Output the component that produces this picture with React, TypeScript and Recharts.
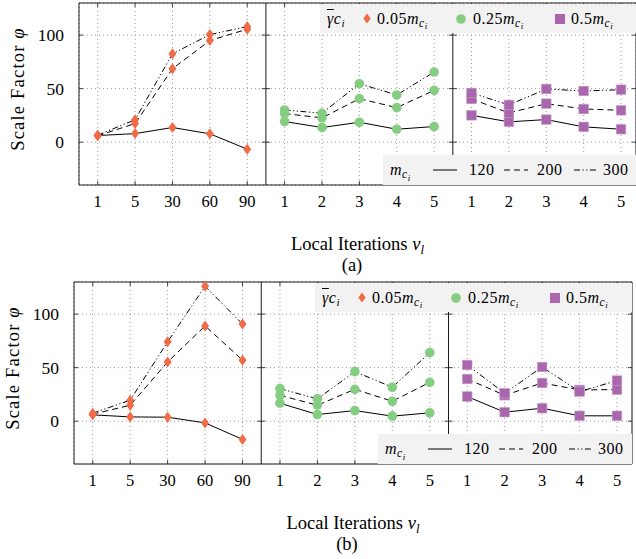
import React from 'react'
import { ComposedChart, Line, XAxis, YAxis, CartesianGrid, ReferenceLine } from 'recharts'

// x categories: iterations for the three sub-plots laid side by side
const xLabels = ['1', '5', '30', '60', '90', '1', '2', '3', '4', '5', '1', '2', '3', '4', '5']
const yTicks = [0, 50, 100]

// panel (a)
const aDiamond120 = [6.2, 8, 13.7, 7.8, -6.5]
const aDiamond200 = [6, 17.4, 68.6, 95, 105.5]
const aDiamond300 = [6.5, 21, 82.5, 100.5, 108]
const aCircle120 = [19.3, 13.7, 18.6, 12.1, 14.6]
const aCircle200 = [26.7, 22.7, 40.6, 32.3, 48.4]
const aCircle300 = [30.1, 27, 54.6, 44.1, 65.5]
const aSquare120 = [25.1, 19, 21.1, 14.3, 12.1]
const aSquare200 = [40.4, 27.3, 36, 31, 29.8]
const aSquare300 = [46, 34.8, 49.7, 47.8, 49]

// panel (b)
const bDiamond120 = [5.9, 4, 3.7, -1.6, -17]
const bDiamond200 = [6.5, 14.9, 55.3, 89, 57]
const bDiamond300 = [7.5, 19.6, 74.2, 126, 90.7]
const bCircle120 = [16.8, 6.2, 9.9, 4.7, 7.8]
const bCircle200 = [24.2, 14.9, 29.8, 18.6, 36.3]
const bCircle300 = [30.4, 20.8, 46.3, 31.7, 64]
const bSquare120 = [23, 8.4, 12.1, 5, 5]
const bSquare200 = [39.4, 24.2, 35.7, 29.2, 29.5]
const bSquare300 = [52.5, 26.1, 50.6, 27.6, 37.9]

const ORANGE = '#f26b47'
const GREEN = '#85cd80'
const PURPLE = '#a966ad'
const SERIF = '"Liberation Serif", "DejaVu Serif", serif'

const X_MIN = -0.5
const X_MAX = 14.4
const Y_MIN = -40
const Y_MAX = 130

type Triple = number[][]

// one row per x position; each group only fills its own five slots
function buildRows(groups: Triple[]) {
  return xLabels.map((_, i) => {
    const row: Record<string, number | null> = { x: i }
    const g = Math.floor(i / 5)
    groups.forEach((grp, gi) => {
      grp.forEach((vals, si) => {
        row[`g${gi}s${si}`] = gi === g ? vals[i % 5] : null
      })
    })
    return row
  })
}

const rowsA = buildRows([
  [aDiamond120, aDiamond200, aDiamond300],
  [aCircle120, aCircle200, aCircle300],
  [aSquare120, aSquare200, aSquare300],
])
const rowsB = buildRows([
  [bDiamond120, bDiamond200, bDiamond300],
  [bCircle120, bCircle200, bCircle300],
  [bSquare120, bSquare200, bSquare300],
])

const empty = (p: any) => p.cx == null || p.cy == null || p.value == null

const diamondDot = (p: any) =>
  empty(p) ? <g key={p.index} /> : (
    <path key={p.index} d={`M${p.cx},${p.cy - 5.5}L${p.cx + 4},${p.cy}L${p.cx},${p.cy + 5.5}L${p.cx - 4},${p.cy}Z`} fill={ORANGE} />
  )
const circleDot = (p: any) =>
  empty(p) ? <g key={p.index} /> : <circle key={p.index} cx={p.cx} cy={p.cy} r={4.8} fill={GREEN} />
const squareDot = (p: any) =>
  empty(p) ? <g key={p.index} /> : (
    <rect key={p.index} x={p.cx - 4.8} y={p.cy - 4.8} width={9.6} height={9.6} fill={PURPLE} stroke="#c9a0cb" strokeWidth={0.6} />
  )

const DASHES = [undefined, '6 4', '6 2.5 1.2 2.5 1.2 2.5']
const DOTS = [diamondDot, circleDot, squareDot]

const boundaries = [X_MIN, 4.5, 9.5, X_MAX]

function Mci() {
  return (
    <span>
      <i>m</i>
      <span style={{ fontSize: '0.72em', position: 'relative', top: '0.3em' }}>
        <i>c</i>
        <span style={{ fontSize: '0.78em', position: 'relative', top: '0.25em' }}>
          <i>i</i>
        </span>
      </span>
    </span>
  )
}

function LineSample({ dash }: { dash?: string }) {
  return (
    <svg width={24} height={6} style={{ display: 'block' }}>
      <line x1={0} y1={3} x2={24} y2={3} stroke="#000" strokeWidth={1} strokeDasharray={dash} />
    </svg>
  )
}

const item = (left: number): React.CSSProperties => ({
  position: 'absolute',
  left,
  top: 0,
  height: '100%',
  display: 'flex',
  alignItems: 'center',
  whiteSpace: 'nowrap',
})

function Panel({ top, plotLeft, plotRight, rows, caption }: { top: number; plotLeft: number; plotRight: number; rows: any[]; caption: string }) {
  const W = 636
  const legendText: React.CSSProperties = { fontFamily: SERIF, fontSize: 16, letterSpacing: 0.5, color: '#000' }
  return (
    <div style={{ position: 'absolute', left: 0, top, width: W, height: 280 }}>
      <ComposedChart width={W} height={215} data={rows} margin={{ top: 3, right: W - plotRight, left: 0, bottom: 0 }}>
        <CartesianGrid stroke="#9a9a9a" strokeDasharray="1 3" />
        <XAxis
          type="number"
          dataKey="x"
          domain={[X_MIN, X_MAX]}
          ticks={xLabels.map((_, i) => i)}
          interval={0}
          tickFormatter={(v: number) => xLabels[v]}
          allowDataOverflow
          axisLine={false}
          tickLine={false}
          tickSize={0}
          tickMargin={10}
          height={30}
          tick={{ fill: '#000', fontSize: 16.5, fontFamily: SERIF }}
        />
        <YAxis
          type="number"
          domain={[Y_MIN, Y_MAX]}
          ticks={yTicks}
          allowDataOverflow
          width={plotLeft}
          axisLine={false}
          tickLine={false}
          tickSize={0}
          tickMargin={15}
          tick={{ fill: '#000', fontSize: 17.5, fontFamily: SERIF }}
        />
        {/* small inward ticks on top and bottom edges */}
        {xLabels.map((_, i) => (
          <ReferenceLine key={`tt${i}`} segment={[{ x: i, y: Y_MAX }, { x: i, y: Y_MAX - 3.8 }]} stroke="#444" />
        ))}
        {xLabels.map((_, i) => (
          <ReferenceLine key={`tb${i}`} segment={[{ x: i, y: Y_MIN }, { x: i, y: Y_MIN + 3.8 }]} stroke="#444" />
        ))}
        {boundaries.map((b, bi) =>
          yTicks.map((t) => (
            <ReferenceLine
              key={`ty${bi}-${t}`}
              segment={[{ x: bi === 0 ? b : b - 0.11, y: t }, { x: bi === 3 ? b : b + 0.11, y: t }]}
              stroke="#444"
            />
          ))
        )}
        {/* frame and sub-plot dividers */}
        <ReferenceLine y={Y_MAX} stroke="#1a1a1a" />
        <ReferenceLine y={Y_MIN} stroke="#1a1a1a" />
        {boundaries.map((b) => (
          <ReferenceLine key={`fx${b}`} x={b} stroke="#1a1a1a" />
        ))}
        {[0, 1, 2].map((g) =>
          [0, 1, 2].map((s) => (
            <Line
              key={`g${g}s${s}`}
              dataKey={`g${g}s${s}`}
              type="linear"
              stroke="#000"
              strokeWidth={1}
              strokeDasharray={DASHES[s]}
              dot={DOTS[g]}
              activeDot={false}
              connectNulls={false}
              isAnimationActive={false}
            />
          ))
        )}
      </ComposedChart>

      {/* legend: marker styles */}
      <div style={{ position: 'absolute', left: plotLeft + 241, top: 4, width: plotRight - plotLeft - 241, height: 29, background: '#f2f2f2', ...legendText }}>
        <div style={item(7)}>
          <span>
            <i style={{ textDecoration: 'overline' }}>γ</i>
            <i>c</i>
            <span style={{ fontSize: '0.7em', position: 'relative', top: '0.3em' }}><i>i</i></span>
          </span>
        </div>
        <div style={item(43)}>
          <svg width={8} height={11}><path d="M4,0.5L7.7,5.5L4,10.5L0.3,5.5Z" fill={ORANGE} /></svg>
        </div>
        <div style={item(57)}><span>0.05<Mci /></span></div>
        <div style={item(136)}>
          <svg width={10} height={10}><circle cx={5} cy={5} r={4.8} fill={GREEN} /></svg>
        </div>
        <div style={item(153)}><span>0.25<Mci /></span></div>
        <div style={item(235)}>
          <svg width={10} height={10}><rect x={0} y={0} width={10} height={10} fill={PURPLE} /></svg>
        </div>
        <div style={item(251)}><span>0.5<Mci /></span></div>
      </div>

      {/* legend: line styles */}
      <div style={{ position: 'absolute', left: plotLeft + 304, top: 155, width: plotRight - plotLeft - 304, height: 30, background: '#f2f2f2', ...legendText }}>
        <div style={item(7)}><Mci /></div>
        <div style={item(50)}><LineSample /></div>
        <div style={item(86)}>120</div>
        <div style={item(121)}><LineSample dash="6 4" /></div>
        <div style={item(154)}>200</div>
        <div style={item(191)}><LineSample dash="6 2.5 1.2 2.5 1.2 2.5" /></div>
        <div style={item(220)}>300</div>
      </div>

      <div
        style={{
          position: 'absolute',
          left: plotLeft - 61,
          top: 89,
          transform: 'translate(-50%, -50%) rotate(-90deg)',
          whiteSpace: 'nowrap',
          fontFamily: SERIF,
          fontSize: 18.5,
          letterSpacing: 1.2,
        }}
      >
        Scale Factor <i>φ</i>
      </div>
      <div
        style={{
          position: 'absolute',
          left: (plotLeft + plotRight) / 2,
          top: 244,
          transform: 'translate(-50%, -50%)',
          whiteSpace: 'nowrap',
          fontFamily: SERIF,
          fontSize: 18.5,
        }}
      >
        Local Iterations <i>ν</i>
        <span style={{ fontSize: '0.7em', position: 'relative', top: '0.3em' }}><i>l</i></span>
      </div>
      <div
        style={{
          position: 'absolute',
          left: plotLeft + 273,
          top: 265,
          transform: 'translate(-50%, -50%)',
          fontFamily: SERIF,
          fontSize: 18.5,
        }}
      >
        {caption}
      </div>
    </div>
  )
}

export default function App() {
  return (
    <div style={{ position: 'absolute', left: 0, top: 0, width: 636, height: 559, background: '#fff', overflow: 'hidden' }}>
      <Panel top={0} plotLeft={79} plotRight={636} rows={rowsA} caption="(a)" />
      <Panel top={279} plotLeft={74} plotRight={632} rows={rowsB} caption="(b)" />
    </div>
  )
}
